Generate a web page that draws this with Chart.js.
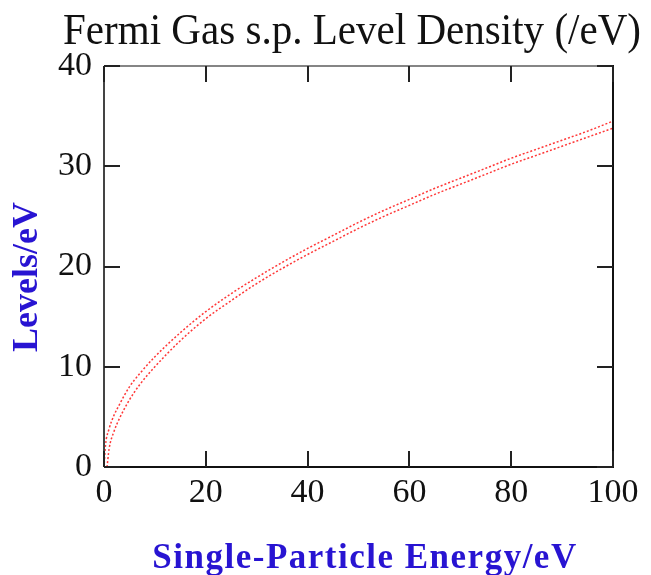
<!DOCTYPE html>
<html>
<head>
<meta charset="utf-8">
<script src="https://cdn.jsdelivr.net/npm/chart.js@4.4.1/dist/chart.umd.min.js"></script>
<style>
  html, body { margin: 0; padding: 0; background: #ffffff; }
  #wrap { width: 651px; height: 575px; }
</style>
</head>
<body>
<div id="wrap"><canvas id="c" width="651" height="575"></canvas></div>
<script>
// Data
const energyUpper = [0, 0.3, 1, 2, 3, 5, 7, 10, 15, 20, 25, 30, 35, 40, 45, 50, 55, 60, 65, 70, 75, 80, 85, 90, 95, 100];
const levelsUpper = [0, 2.2, 3.8, 5.2, 6.2, 8.0, 9.3, 11.0, 13.4, 15.5, 17.3, 18.9, 20.4, 21.8, 23.1, 24.4, 25.6, 26.7, 27.8, 28.8, 29.8, 30.8, 31.7, 32.6, 33.5, 34.5];
const energyLower = [0.6, 1, 2, 3, 5, 7, 10, 15, 20, 25, 30, 35, 40, 45, 50, 55, 60, 65, 70, 75, 80, 85, 90, 95, 100];
const levelsLower = [0, 1.8, 3.6, 4.8, 6.7, 8.2, 10.0, 12.6, 14.8, 16.6, 18.3, 19.8, 21.2, 22.5, 23.8, 25.0, 26.1, 27.2, 28.2, 29.2, 30.2, 31.1, 32.0, 32.9, 33.8];
const xTicks = [0, 20, 40, 60, 80, 100];
const yTicks = [0, 10, 20, 30, 40];

const titleText = 'Fermi Gas s.p. Level Density (/eV)';
const xTitle = 'Single-Particle Energy/eV';
const yTitle = 'Levels/eV';

const SERIF = '"Liberation Serif", "Times New Roman", serif';
const toPts = (xs, ys) => xs.map((x, i) => ({ x: x, y: ys[i] }));

const frameTicks = {
  id: 'frameTicks',
  afterDraw(chart) {
    const ctx = chart.ctx;
    const a = chart.chartArea;
    const xs = chart.scales.x, ys = chart.scales.y;
    const len = 16;
    ctx.save();
    ctx.lineCap = 'butt';
    ctx.strokeStyle = '#858585';
    ctx.lineWidth = 2;
    ctx.beginPath(); ctx.moveTo(a.left, a.top); ctx.lineTo(a.right, a.top); ctx.stroke();
    ctx.strokeStyle = '#444444';
    ctx.beginPath(); ctx.moveTo(a.left, a.top); ctx.lineTo(a.left, a.bottom); ctx.stroke();
    ctx.strokeStyle = '#111111';
    ctx.beginPath(); ctx.moveTo(a.left, a.bottom); ctx.lineTo(a.right + 1, a.bottom); ctx.stroke();
    ctx.beginPath(); ctx.moveTo(a.right, a.top - 1); ctx.lineTo(a.right, a.bottom); ctx.stroke();
    ctx.strokeStyle = '#222222';
    xs.ticks.forEach(t => {
      const p = Math.round(xs.getPixelForValue(t.value));
      ctx.beginPath(); ctx.moveTo(p, a.bottom); ctx.lineTo(p, a.bottom - len); ctx.stroke();
      ctx.beginPath(); ctx.moveTo(p, a.top); ctx.lineTo(p, a.top + len); ctx.stroke();
    });
    ys.ticks.forEach(t => {
      const p = Math.round(ys.getPixelForValue(t.value));
      ctx.beginPath(); ctx.moveTo(a.left, p); ctx.lineTo(a.left + len, p); ctx.stroke();
      ctx.beginPath(); ctx.moveTo(a.right, p); ctx.lineTo(a.right - len, p); ctx.stroke();
    });
    ctx.restore();

    // Main title: 45px serif, horizontally fitted to the reference width
    ctx.save();
    ctx.letterSpacing = '0px';
    ctx.textBaseline = 'alphabetic';
    ctx.textAlign = 'center';
    ctx.fillStyle = '#111111';
    ctx.font = 'normal 45px ' + SERIF;
    const w = ctx.measureText(titleText).width;
    const sx = Math.min(1, 578 / w);
    ctx.translate(352, 44);
    ctx.scale(sx, 1);
    ctx.fillText(titleText, 0, 0);
    ctx.restore();

    // X axis title
    ctx.save();
    ctx.textBaseline = 'alphabetic';
    ctx.textAlign = 'center';
    ctx.fillStyle = '#2814d2';
    ctx.font = 'bold 35px ' + SERIF;
    ctx.letterSpacing = '1.5px';
    ctx.fillText(xTitle, 365, 568);
    ctx.restore();

    // Y axis title
    ctx.save();
    ctx.letterSpacing = '0px';
    ctx.textBaseline = 'alphabetic';
    ctx.textAlign = 'center';
    ctx.fillStyle = '#2814d2';
    ctx.translate(37, 277);
    ctx.rotate(-Math.PI / 2);
    ctx.font = 'bold 36px ' + SERIF;
    ctx.fillText(yTitle, 0, 0);
    ctx.restore();
  }
};

new Chart(document.getElementById('c'), {
  type: 'line',
  data: {
    datasets: [
      {
        data: toPts(energyUpper, levelsUpper),
        borderColor: 'rgba(255,20,20,0.85)',
        borderWidth: 1.5,
        borderDash: [2, 2],
        pointRadius: 0,
        cubicInterpolationMode: 'monotone',
        fill: false
      },
      {
        data: toPts(energyLower, levelsLower),
        borderColor: 'rgba(255,20,20,0.85)',
        borderWidth: 1.5,
        borderDash: [2, 2],
        pointRadius: 0,
        cubicInterpolationMode: 'monotone',
        fill: false
      }
    ]
  },
  options: {
    responsive: false,
    animation: false,
    events: [],
    layout: { padding: { left: 0, right: 38, top: 66, bottom: 0 } },
    plugins: {
      legend: { display: false },
      tooltip: { enabled: false },
      title: { display: false }
    },
    scales: {
      x: {
        type: 'linear',
        min: 0, max: 100,
        afterBuildTicks: s => { s.ticks = xTicks.map(v => ({ value: v })); },
        afterFit: s => { s.height = 108; },
        grid: { display: false, drawTicks: false },
        border: { display: false },
        ticks: {
          color: '#111111',
          padding: 6,
          maxRotation: 0,
          font: { family: SERIF, size: 34 }
        }
      },
      y: {
        type: 'linear',
        min: 0, max: 40,
        afterBuildTicks: s => { s.ticks = yTicks.map(v => ({ value: v })); },
        afterFit: s => { s.width = 104; },
        grid: { display: false, drawTicks: false },
        border: { display: false },
        ticks: {
          color: '#111111',
          padding: 12,
          font: { family: SERIF, size: 34 }
        }
      }
    }
  },
  plugins: [frameTicks]
});
</script>
</body>
</html>
